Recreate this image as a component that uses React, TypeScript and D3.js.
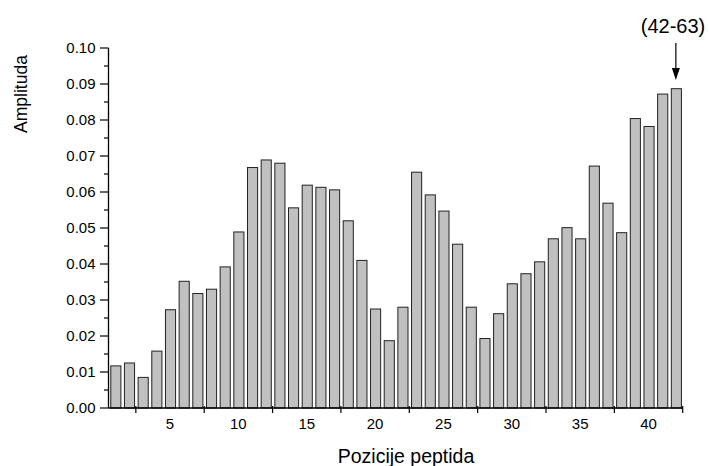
import React from "react";
import * as d3 from "d3";

const positions = d3.range(1, 43);
const amplitudes = [
  0.0117, 0.0125, 0.0085, 0.0158, 0.0273, 0.0352, 0.0318, 0.033, 0.0392, 0.0489,
  0.0668, 0.0689, 0.068, 0.0556, 0.0619, 0.0613, 0.0606, 0.052, 0.041, 0.0275,
  0.0187, 0.028, 0.0655, 0.0592, 0.0547, 0.0455, 0.028, 0.0193, 0.0262, 0.0345,
  0.0373, 0.0406, 0.047, 0.0501, 0.047, 0.0672, 0.0569, 0.0487, 0.0804, 0.0782,
  0.0872, 0.0887,
];
const yTicks = [0, 0.01, 0.02, 0.03, 0.04, 0.05, 0.06, 0.07, 0.08, 0.09, 0.1];
const yMinor = d3.range(0.005, 0.1, 0.01);
const xLabels = [5, 10, 15, 20, 25, 30, 35, 40];
const xTickPos = [2.5, 7.5, 12.5, 17.5, 22.5, 27.5, 32.5, 37.5, 42.5];
const annotation = "(42-63)";
const xTitle = "Pozicije peptida";
const yTitle = "Amplituda";

export default function App() {
  const W = 709, H = 466;
  const left = 108.5, right = 682.7, top = 48, bottom = 408;
  const x = d3.scaleLinear().domain([0.5, 42.5]).range([left, right]);
  const y = d3.scaleLinear().domain([0, 0.1]).range([bottom, top]);
  const bw = (x(2) - x(1)) * 0.74;
  const font = "Arial, 'Liberation Sans', sans-serif";
  const lastX = x(42);
  return (
    <svg width={W} height={H} style={{ position: "absolute", left: 0, top: 0 }} fontFamily={font}>
      <rect width={W} height={H} fill="#fff" />
      {positions.map((p, i) => (
        <rect key={p} x={x(p) - bw / 2 + 0.5} y={y(amplitudes[i])} width={bw} height={y(0) - y(amplitudes[i])}
          fill="#c0c0c0" stroke="#222" strokeWidth={1} />
      ))}
      {/* y axis */}
      <line x1={left} x2={left} y1={top} y2={bottom} stroke="#000" strokeWidth={1.3} />
      {yTicks.map((t) => (
        <g key={t}>
          <line x1={left - 8.5} x2={left} y1={y(t)} y2={y(t)} stroke="#000" strokeWidth={1.2} />
          <text x={left - 13} y={y(t)} dy="0.36em" textAnchor="end" fontSize={15}>{t.toFixed(2)}</text>
        </g>
      ))}
      {yMinor.map((t) => (
        <line key={t} x1={left - 4.5} x2={left} y1={y(t)} y2={y(t)} stroke="#000" strokeWidth={1.2} />
      ))}
      {/* x axis */}
      <line x1={left} x2={right} y1={bottom} y2={bottom} stroke="#000" strokeWidth={1.3} />
      {xTickPos.map((t) => (
        <line key={t} x1={x(t)} x2={x(t)} y1={bottom - 2} y2={bottom + 5} stroke="#000" strokeWidth={1.2} />
      ))}
      {xLabels.map((t) => (
        <text key={t} x={x(t)} y={bottom + 21} textAnchor="middle" fontSize={15}>{t}</text>
      ))}
      <text x={406} y={463} textAnchor="middle" fontSize={19.5}>{xTitle}</text>
      <text transform={`translate(27,94) rotate(-90)`} textAnchor="middle" fontSize={17.5}>{yTitle}</text>
      {/* annotation */}
      <text x={673} y={33} textAnchor="middle" fontSize={20}>{annotation}</text>
      <line x1={lastX} x2={lastX} y1={43} y2={70} stroke="#000" strokeWidth={1.2} />
      <path d={`M${lastX - 4},68 L${lastX + 4},68 L${lastX},80 Z`} fill="#000" />
    </svg>
  );
}
